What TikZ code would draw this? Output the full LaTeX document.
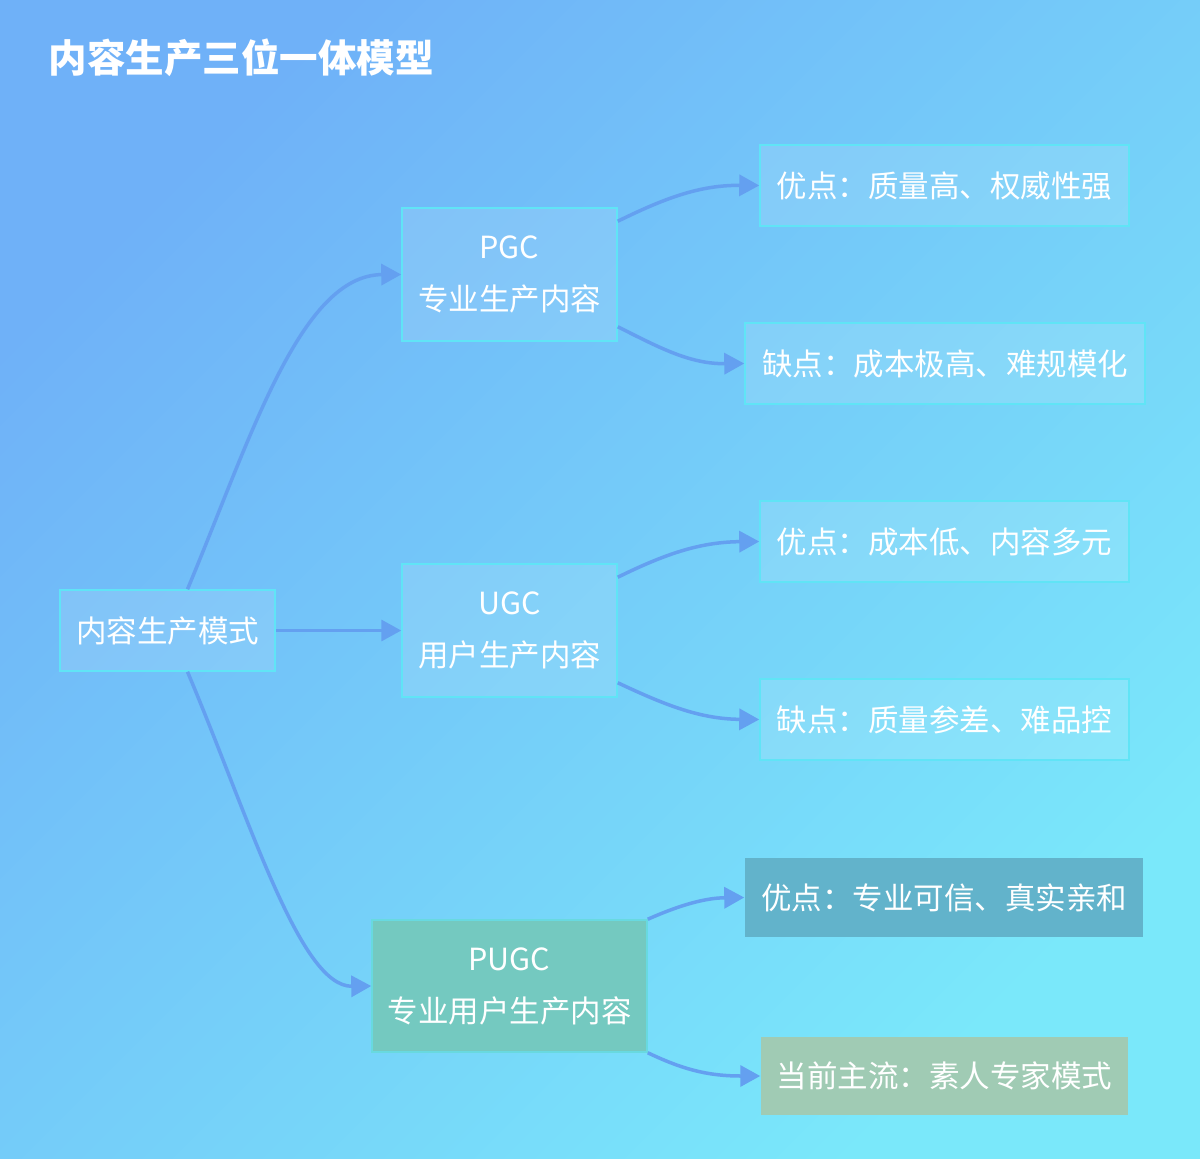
\documentclass[tikz,border=0pt]{standalone}
\usepackage{fontspec}
\setmainfont{Noto Sans CJK SC}
\usetikzlibrary{arrows.meta}
\definecolor{bgA}{RGB}{111,177,248}
\definecolor{bgB}{RGB}{122,232,250}
\definecolor{edgec}{RGB}{96,228,246}
\definecolor{arrc}{RGB}{100,160,240}
\definecolor{goodc}{RGB}{98,179,203}
\definecolor{mainc}{RGB}{160,203,180}
\definecolor{pugcc}{RGB}{116,201,192}
\tikzset{
  box/.style={draw=edgec, line width=1.5pt, fill=white, fill opacity=0.12, text opacity=1, text=white,
    inner sep=0pt, font=\fontsize{30.5}{52}\selectfont, align=center},
  solidbox/.style={line width=1.5pt, text=white, inner sep=0pt, font=\fontsize{30.5}{52}\selectfont, align=center},
  conn/.style={draw=arrc, line width=3.5pt, -{Triangle[length=20pt,width=21pt]}},
}
\begin{document}
\begin{tikzpicture}[x=1pt,y=-1pt]
\shade[left color=bgA, right color=bgB, shading angle=45] (0,0) rectangle (1200,1159);
\useasboundingbox (0,0) rectangle (1200,1159);

\node[anchor=west, text=white, font=\fontsize{38.5}{42}\selectfont\bfseries] (title) at (45,58) {内容生产三位一体模型};

\node[box, minimum width=215pt, minimum height=81pt] (root) at (167.5,630.5) {内容生产模式};
\node[box, minimum width=215pt, minimum height=133pt] (pgc) at (509.5,274.5) {PGC\\专业生产内容};
\node[box, minimum width=215pt, minimum height=133pt] (ugc) at (509.5,630.5) {UGC\\用户生产内容};
\node[solidbox, draw=edgec!60!pugcc, fill=pugcc, minimum width=275pt, minimum height=132pt] (pugc) at (509.5,986) {PUGC\\专业用户生产内容};

\node[box, minimum width=369pt, minimum height=81pt] (p1) at (944.5,185.5) {优点：质量高、权威性强};
\node[box, minimum width=400pt, minimum height=81pt] (p2) at (945,363.5) {缺点：成本极高、难规模化};
\node[box, minimum width=369pt, minimum height=81pt] (u1) at (944.5,541.5) {优点：成本低、内容多元};
\node[box, minimum width=369pt, minimum height=81pt] (u2) at (944.5,719.5) {缺点：质量参差、难品控};
\node[solidbox, fill=goodc, minimum width=398pt, minimum height=79pt] (g1) at (944,897.5) {优点：专业可信、真实亲和};
\node[solidbox, fill=mainc, minimum width=367pt, minimum height=78pt] (g2) at (944.5,1076) {当前主流：素人专家模式};

\draw[conn] ([xshift=20pt]root.north) .. controls (250,440) and (300,275) .. (pgc.west);
\draw[conn] (root.east) -- (ugc.west);
\draw[conn] ([xshift=20pt]root.south) .. controls (250,820) and (300,987) .. (pugc.west);

\draw[conn] ([yshift=-14pt]pgc.north east) .. controls (665,198) and (700,185) .. (p1.west);
\draw[conn] ([yshift=15pt]pgc.south east) .. controls (660,348) and (690,364) .. (p2.west);
\draw[conn] ([yshift=-14pt]ugc.north east) .. controls (665,554) and (700,542) .. (u1.west);
\draw[conn] ([yshift=15pt]ugc.south east) .. controls (665,705) and (700,719) .. (u2.west);
\draw[conn] (pugc.north east) .. controls (680,905) and (705,898) .. (g1.west);
\draw[conn] (pugc.south east) .. controls (680,1068) and (705,1076) .. (g2.west);
\end{tikzpicture}
\end{document}
